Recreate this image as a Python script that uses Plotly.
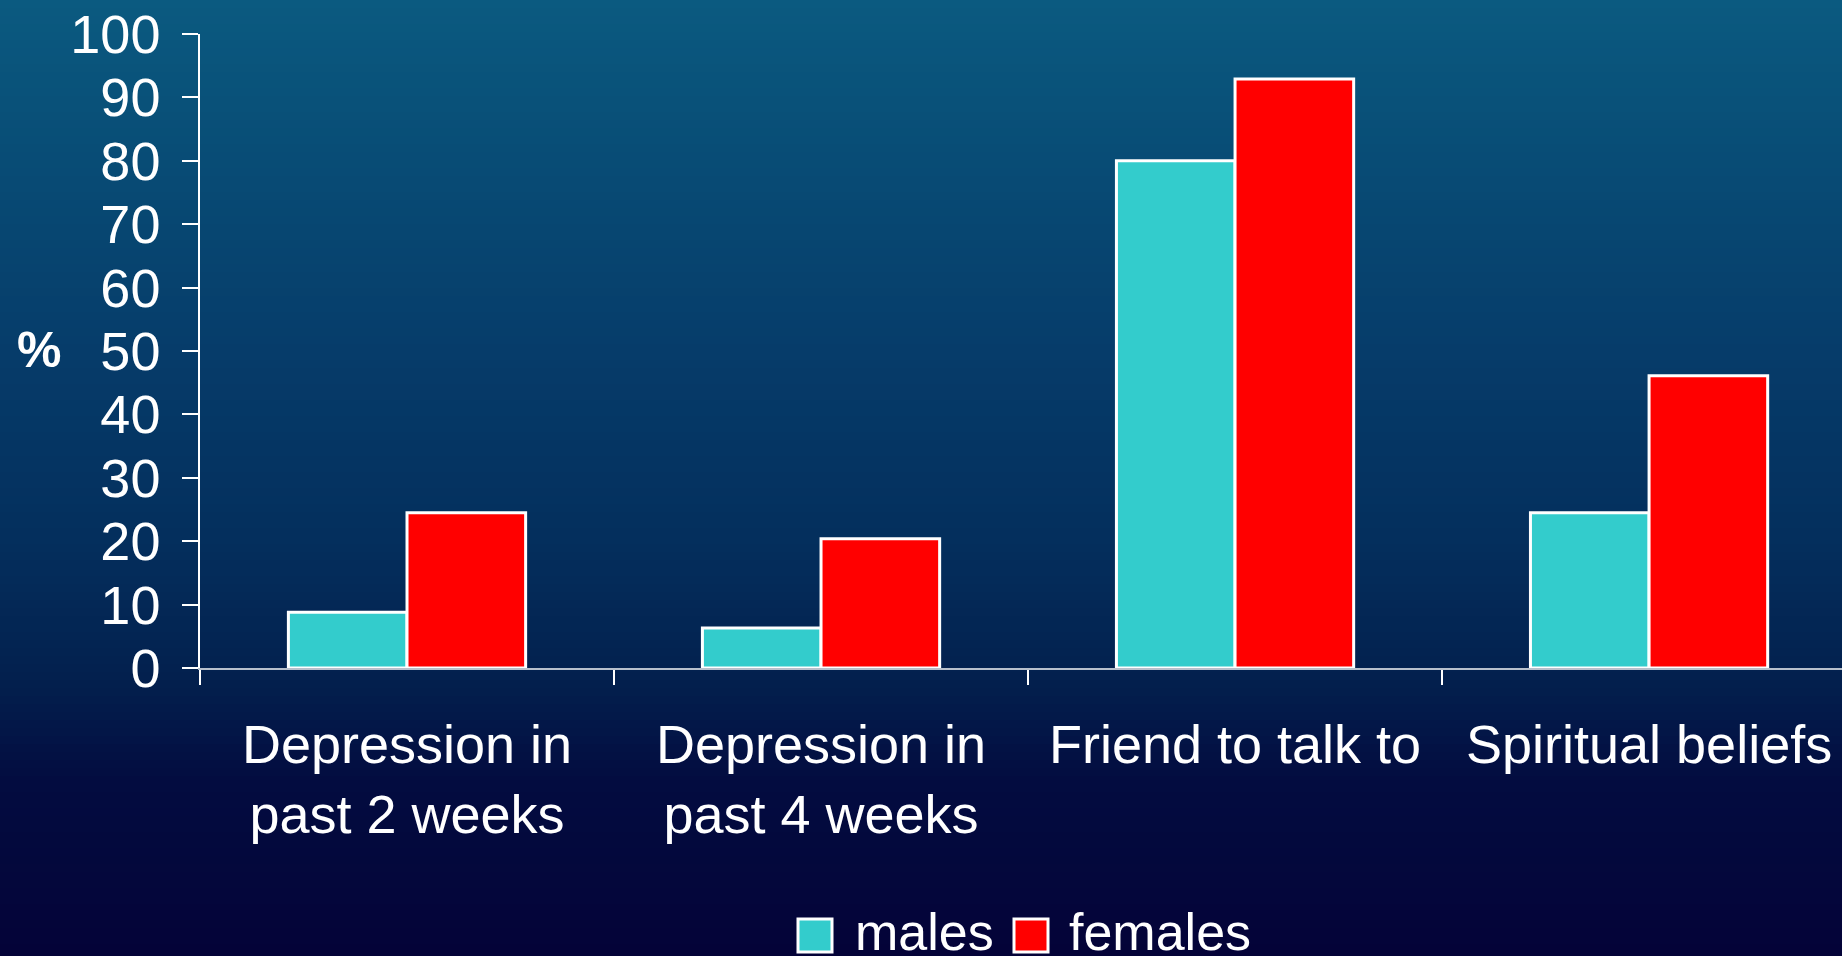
import plotly.graph_objects as go

# data
categories = ["Depression in<br>past 2 weeks", "Depression in<br>past 4 weeks",
              "Friend to talk to", "Spiritual beliefs"]
males = [8.8, 6.3, 80.0, 24.5]
females = [24.5, 20.4, 92.9, 46.1]
y_ticks = list(range(0, 101, 10))
series_names = ["males", "females"]
series_colors = ["#33CCCC", "#FF0000"]

W, H = 1842, 956
L, T, B = 200, 34, 288
plot_w = W - L
plot_h = H - T - B
font_family = "Liberation Sans, Arial, sans-serif"


def px(x):
    return (x - L) / plot_w


def py(y):
    return (H - B - y) / plot_h


fig = go.Figure()
for name, vals, col in zip(series_names, [males, females], series_colors):
    fig.add_trace(go.Bar(
        x=categories, y=vals, name=name,
        marker=dict(color=col, line=dict(color="white", width=3)),
        showlegend=False,
    ))

# background gradient (teal-blue at top to dark navy at bottom)
stops = [(0, (11, 90, 128)), (150, (8, 77, 118)), (350, (6, 60, 106)),
         (550, (4, 46, 92)), (680, (3, 32, 78)), (780, (3, 12, 64)), (956, (4, 3, 56))]


def grad(y):
    for (y0, c0), (y1, c1) in zip(stops[:-1], stops[1:]):
        if y0 <= y <= y1:
            f = (y - y0) / (y1 - y0)
            return "rgb(%d,%d,%d)" % tuple(round(a + (b - a) * f) for a, b in zip(c0, c1))
    return "rgb(%d,%d,%d)" % stops[-1][1]


shapes = []
step = 8
for y in range(0, H, step):
    shapes.append(dict(type="rect", xref="paper", yref="paper", layer="below",
                       x0=px(0), x1=px(W), y0=py(y + step + 1), y1=py(y),
                       fillcolor=grad(y + step / 2), line=dict(width=0)))

# manual legend
legend_items = [(798, 853), (1014, 1067)]
annotations = []
for (sx, tx), name, col in zip(legend_items, series_names, series_colors):
    shapes.append(dict(type="rect", xref="paper", yref="paper",
                       x0=px(sx), x1=px(sx + 34), y0=py(952), y1=py(919),
                       fillcolor=col, line=dict(color="white", width=3)))
    annotations.append(dict(text=name, xref="paper", yref="paper", x=px(tx), y=py(932),
                            xanchor="left", yanchor="middle", showarrow=False,
                            font=dict(size=52, color="white", family=font_family)))

annotations.append(dict(text="<b>%</b>", xref="paper", yref="paper", x=px(39), y=py(350),
                        xanchor="center", yanchor="middle", showarrow=False,
                        font=dict(size=50, color="white", family=font_family)))

fig.update_layout(
    width=W, height=H,
    margin=dict(l=L, r=0, t=T, b=B),
    paper_bgcolor="#040338",
    plot_bgcolor="rgba(0,0,0,0)",
    font=dict(family=font_family, color="white", size=54),
    barmode="group", bargap=0.427, bargroupgap=0,
    shapes=shapes, annotations=annotations,
    xaxis=dict(range=[-0.5, 3.466], showgrid=False, zeroline=False,
               showline=True, linecolor="#b8c0cc", linewidth=2,
               ticks="outside", tickson="boundaries", ticklen=15, tickwidth=1.5,
               tickcolor="white", ticklabelstandoff=28,
               tickfont=dict(size=54, color="white")),
    yaxis=dict(range=[0, 100], tickvals=y_ticks, showgrid=False, zeroline=False,
               showline=True, linecolor="white", linewidth=1.5,
               ticks="outside", ticklen=16, tickwidth=1.5, tickcolor="white",
               ticklabelstandoff=11, tickfont=dict(size=54, color="white")),
)

fig.write_html("out.html", config={"displayModeBar": False},
               post_script="document.body.style.margin='0';")
